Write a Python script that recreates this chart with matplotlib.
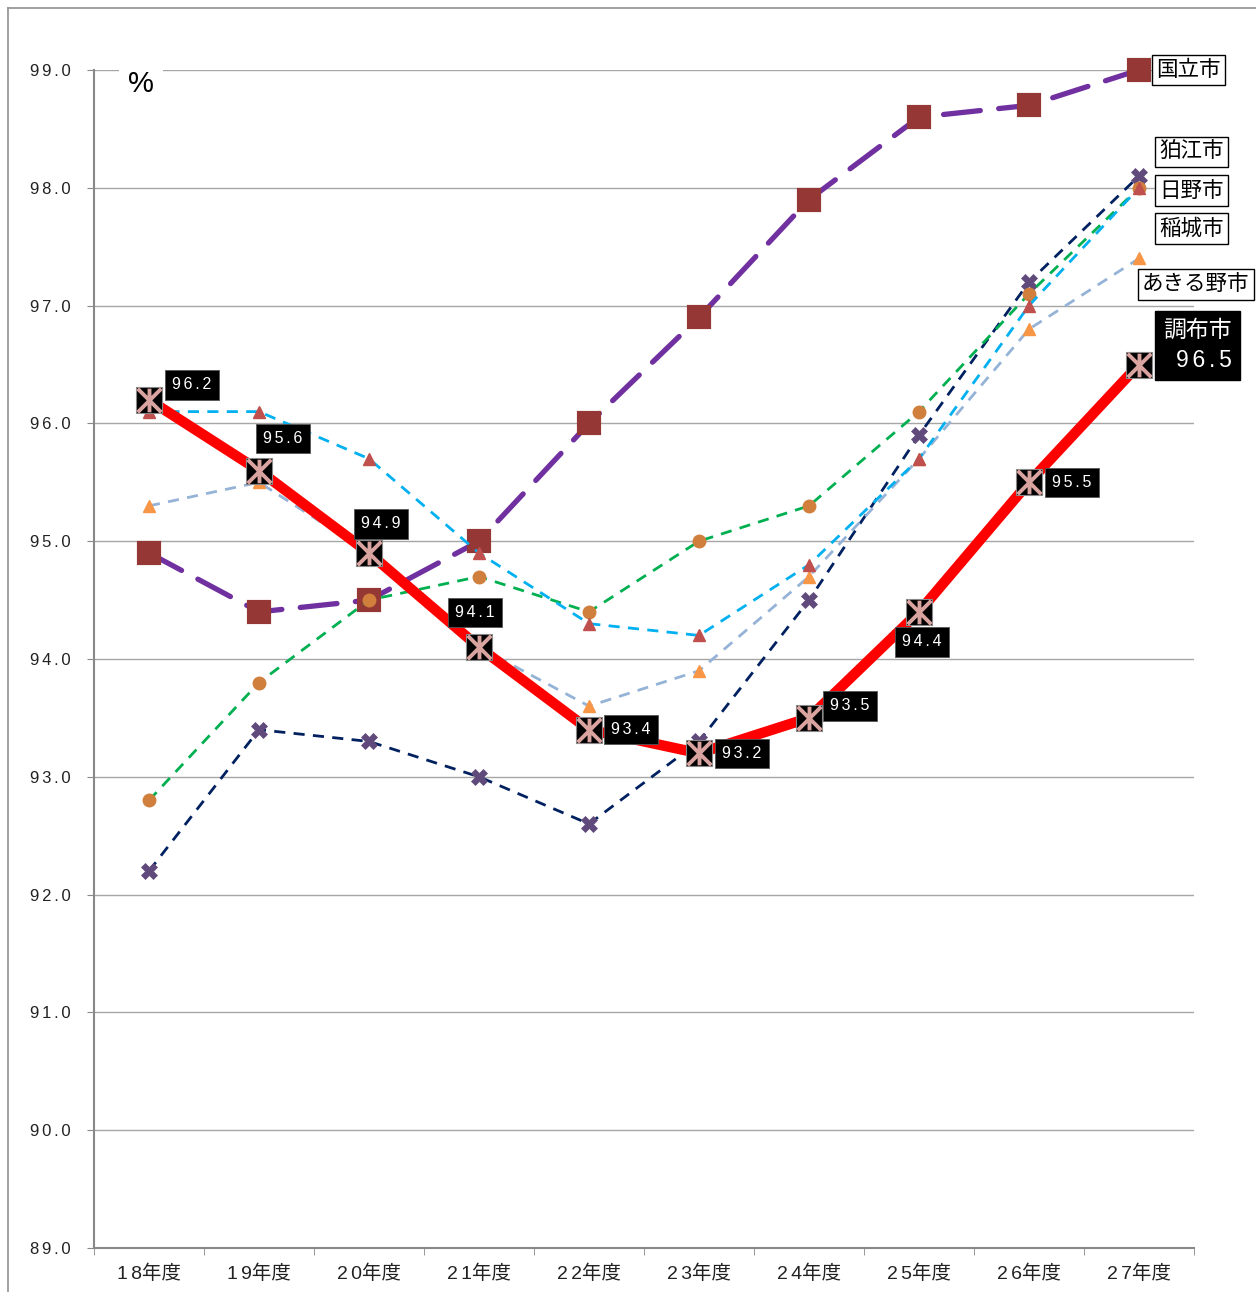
import matplotlib
matplotlib.use("Agg")
import matplotlib.pyplot as plt
from matplotlib.path import Path
from matplotlib.lines import Line2D

plt.rcParams['font.family'] = ['Noto Sans CJK JP', 'DejaVu Sans']
LAT = ['Liberation Sans', 'Noto Sans CJK JP', 'DejaVu Sans']
HS = '\u200a'

years = ['18年度', '19年度', '20年度', '21年度', '22年度', '23年度', '24年度', '25年度', '26年度', '27年度']
kunitachi = [94.9, 94.4, 94.5, 95.0, 96.0, 96.9, 97.9, 98.6, 98.7, 99.0]
chofu = [96.2, 95.6, 94.9, 94.1, 93.4, 93.2, 93.5, 94.4, 95.5, 96.5]
komae = [92.2, 93.4, 93.3, 93.0, 92.6, 93.3, 94.5, 95.9, 97.2, 98.1]
hino = [96.1, 96.1, 95.7, 94.9, 94.3, 94.2, 94.8, 95.7, 97.0, 98.0]
inagi = [92.8, 93.8, 94.5, 94.7, 94.4, 95.0, 95.3, 96.1, 97.1, 98.0]
akiruno = [95.3, 95.5, 94.9, 94.1, 93.6, 93.9, 94.7, 95.7, 96.8, 97.4]
yticks = [89.0, 90.0, 91.0, 92.0, 93.0, 94.0, 95.0, 96.0, 97.0, 98.0, 99.0]


def spaced(s, n=1):
    return (HS * n).join(s)


W, H = 1256, 1292
fig = plt.figure(figsize=(W / 100, H / 100), dpi=100)
ax = fig.add_axes([94 / W, 1 - 1248 / H, 1100 / W, (1248 - 70) / H])

# outer frame
fig.add_artist(Line2D([8 / W, 8 / W], [0, 1 - 8 / H], transform=fig.transFigure, color='#909090', lw=1.2))
fig.add_artist(Line2D([8 / W, 1], [1 - 8 / H, 1 - 8 / H], transform=fig.transFigure, color='#909090', lw=1.2))

x = list(range(len(years)))

# 国立市
ax.plot(x, kunitachi, color='#7030A0', lw=3.8, dashes=(7, 3.5), dash_capstyle='round', zorder=3,
        marker='s', markersize=14, markerfacecolor='#953735', markeredgecolor='#953735',
        markeredgewidth=3, solid_joinstyle='round', clip_on=False)
# 狛江市
ax.plot(x, komae, color='#002060', lw=2.0, dashes=(4, 3), zorder=4,
        marker='X', markersize=12, markerfacecolor='#604A7B', markeredgecolor='#604A7B', markeredgewidth=0.5)
# あきる野市
ax.plot(x, akiruno, color='#95B3D7', lw=2.0, dashes=(4, 3), zorder=4,
        marker='^', markersize=9, markerfacecolor='#F79646', markeredgecolor='#F79646')
# 稲城市
ax.plot(x, inagi, color='#00B050', lw=2.0, dashes=(4, 3), zorder=4,
        marker='o', markersize=9, markerfacecolor='#D07F3C', markeredgecolor='#D07F3C')
# 日野市
ax.plot(x, hino, color='#00B0F0', lw=2.0, dashes=(4, 3), zorder=4,
        marker='^', markersize=9, markerfacecolor='#C0504D', markeredgecolor='#C0504D')
# 調布市
ax.plot(x, chofu, color='#FF0000', lw=7.5, zorder=6, solid_capstyle='butt')
ax.plot(x, chofu, ls='none', marker='s', markersize=19, markerfacecolor='black',
        markeredgecolor='#888888', markeredgewidth=0.8, zorder=7)
star = Path([(-1, -1), (1, 1), (-1, 1), (1, -1), (0, -1), (0, 1)],
            [Path.MOVETO, Path.LINETO, Path.MOVETO, Path.LINETO, Path.MOVETO, Path.LINETO])
ax.plot(x, chofu, ls='none', marker=star, markersize=17, markerfacecolor='none',
        markeredgecolor='#D9A3A0', markeredgewidth=2.8, zorder=8)

# data labels for 調布市
offsets = [(43, 15), (24, 32), (12, 29), (-4, 35), (42, 0), (43, 0), (41, 12), (3, -30), (43, 0)]
for i, (dx, dy) in enumerate(offsets):
    ax.annotate(spaced(f'{chofu[i]:.1f}', 2), xy=(x[i], chofu[i]), xytext=(dx, dy), textcoords='offset pixels',
                ha='center', va='center', color='white', fontsize=11.5, family=LAT,
                bbox=dict(boxstyle='square,pad=0.45', fc='black', ec='#555555', lw=0.6), zorder=9)

# series name labels
name_style = dict(ha='left', va='center', fontsize=15.5, color='black', textcoords='offset pixels',
                  bbox=dict(boxstyle='square,pad=0.2', fc='white', ec='black', lw=1.0), zorder=9)
ax.annotate('国立市', xy=(x[-1], kunitachi[-1]), xytext=(17, 0), **name_style)
ax.annotate('狛江市', xy=(x[-1], komae[-1]), xytext=(20, 24), **name_style)
ax.annotate('日野市', xy=(x[-1], hino[-1]), xytext=(20, -3), **name_style)
ax.annotate('稲城市', xy=(x[-1], inagi[-1]), xytext=(20, -41), **name_style)
ax.annotate('あきる野市', xy=(x[-1], akiruno[-1]), xytext=(3, -26), **name_style)
ax.annotate('調布市\n' + spaced(f'{chofu[-1]:.1f}', 2), xy=(x[-1], chofu[-1]), xytext=(24, 19),
            textcoords='offset pixels', family=LAT,
            ha='left', va='center', multialignment='right', fontsize=16.5, color='white',
            linespacing=1.4,
            bbox=dict(boxstyle='square,pad=0.35', fc='black', ec='black'), zorder=9)

ax.set_xlim(-0.5, len(years) - 0.5)
ax.set_ylim(89, 99)
ax.set_yticks(yticks)
ax.set_yticklabels([spaced(f'{v:.1f}', 2) for v in yticks], family=LAT, fontsize=12)
ax.set_xticks(x)
ax.set_xticklabels([spaced(y[:2], 2) + y[2:] for y in years], fontsize=14, family=LAT)
ax.set_xticks([i - 0.5 for i in range(len(years) + 1)], minor=True)
ax.tick_params(axis='x', which='major', length=0, pad=12, colors='#222222')
ax.tick_params(axis='x', which='minor', length=5, color='#888888', direction='out')
ax.tick_params(axis='y', length=5, color='#888888', direction='out', pad=12, labelcolor='#222222')
ax.grid(axis='y', color='#A6A6A6', lw=1.0)
ax.set_axisbelow(True)
for s in ['top', 'right']:
    ax.spines[s].set_visible(False)
for s in ['left', 'bottom']:
    ax.spines[s].set_color('#888888')
    ax.spines[s].set_linewidth(1.5)

ax.text(47 / 1100, 1.0, '%', transform=ax.transAxes, ha='center', va='top', fontsize=21,
        family=LAT, color='black', zorder=5,
        bbox=dict(boxstyle='square,pad=0.3', fc='white', ec='none'))

fig.savefig('out.png', dpi=100)
